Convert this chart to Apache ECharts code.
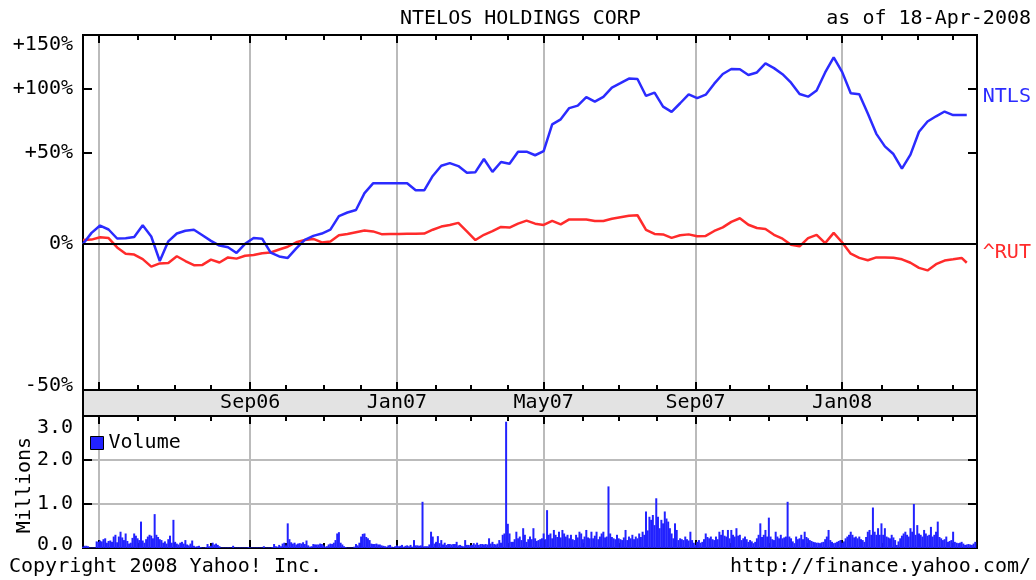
<!DOCTYPE html>
<html>
<head>
<meta charset="utf-8">
<script src="https://cdn.jsdelivr.net/npm/echarts@6/dist/echarts.min.js"></script>
<style>
html,body{margin:0;padding:0;background:#fff;}
#chart{width:1036px;height:580px;}
</style>
</head>
<body>
<div id="chart"></div>
<script>
// ---------- text ----------
const chartTitle = 'NTELOS HOLDINGS CORP';
const asOfText = 'as of 18-Apr-2008';
const copyrightText = 'Copyright 2008 Yahoo! Inc.';
const sourceText = 'http://finance.yahoo.com/';
const volumeAxisName = 'Millions';
const seriesNames = ['NTLS', '^RUT', 'Volume'];
const monthNames = ['Jan','Feb','Mar','Apr','May','Jun','Jul','Aug','Sep','Oct','Nov','Dec'];
const majorMonths = ['01', '05', '09'];

// ---------- calendar (weekday axis) ----------
const firstDay = '2006-04-18';
const lastDay = '2008-04-21';
const lastLineDay = '2008-04-11';

// ---------- series values ----------
// % change since start, one reading per week (every 5th weekday), last value = final day
const ntlsPct = [
  0, 5.1, 8.6, 6.7, 2.5, 2.6, 3.2, 8.7, 3.4, -7.3,
  1.2, 4.8, 6.1, 6.6, 4.0, 1.4, -0.7, -1.4, -3.9, 0.1,
  2.7, 2.4, -3.8, -5.4, -6.0, -1.9, 1.9, 3.7, 4.8, 6.6,
  13.3, 15.1, 16.4, 25.5, 31.1, 31.1, 31.1, 31.1, 31.1, 27.1,
  27.1, 35.5, 41.8, 43.5, 41.6, 37.5, 37.8, 46.1, 38, 44.2,
  43.1, 51, 51, 48.6, 51.3, 70.6, 74.4, 83.4, 85.4, 92.5,
  88.7, 92.8, 101, 105, 109.2, 108.8, 93.6, 96.5, 84.6, 80.3,
  87.4, 95, 91.8, 94.7, 104.5, 113.5, 118.3, 118.1, 112.6, 115,
  123.8, 119.2, 113.3, 105.4, 95.3, 93.0, 98.4, 115, 130, 115.3,
  95.9, 95, 79, 63.5, 54.6, 49.4, 40, 49, 65, 72.7,
  76.8, 80.6, 77.8, 77.8,
  77.8
];
const rutPct = [
  1.8, 2.0, 3.1, 2.7, -1.5, -4.2, -4.6, -6.5, -9.6, -8.3,
  -8.1, -5.3, -7.3, -9.0, -8.9, -6.7, -7.9, -5.8, -6.3, -5.1,
  -4.8, -4.0, -3.7, -2.4, -1.2, 0.8, 1.8, 2.3, 0.7, 1.1,
  4.0, 4.6, 5.4, 6.2, 5.8, 4.5, 4.6, 4.6, 4.7, 4.7,
  4.8, 6.6, 8.1, 8.9, 9.9, 5.8, 1.8, 4.2, 5.9, 7.9,
  7.6, 9.5, 11, 9.5, 8.9, 10.9, 9.2, 11.6, 11.6, 11.6,
  10.8, 10.8, 11.9, 12.7, 13.4, 13.7, 6.5, 4.6, 4.4, 2.8,
  4.0, 4.4, 3.5, 3.7, 6, 7.7, 10.4, 12.2, 9, 7.4,
  6.9, 4.2, 2.4, -0.3, -1, 2.7, 4.2, 0.4, 5.1, 0.7,
  -4.2, -6.0, -7.0, -5.8, -5.8, -5.9, -6.6, -8, -10.1, -11.1,
  -8.6, -7.1, -6.6, -6,
  -8
];
// NTLS daily volume, in units of 10,000 shares (one value per weekday from firstDay)
const volume10k = [
  3,5,5,4,1,1,1,1,15,14,17,15,20,22,12,16,17,14,26,30,
  13,26,37,24,18,33,16,10,12,23,33,28,22,18,60,17,12,20,26,30,
  28,22,77,30,25,20,18,12,15,10,20,28,12,64,14,10,8,12,14,10,
  18,8,6,10,17,5,3,4,5,2,1,1,2,9,4,5,12,8,10,7,
  4,1,1,1,1,1,1,1,5,1,1,1,1,1,1,1,1,2,1,1,
  1,1,1,1,1,1,4,1,1,1,1,2,9,4,3,7,4,10,12,6,
  56,20,13,10,12,8,10,11,10,13,9,17,6,3,4,9,8,8,8,10,
  9,6,3,4,8,10,9,12,18,33,36,12,8,4,2,1,1,1,1,3,
  9,6,12,26,32,33,25,22,18,10,9,9,10,8,8,6,5,4,3,6,
  7,3,2,4,6,4,5,7,3,5,6,4,7,3,18,6,6,5,6,105,
  4,4,4,8,37,26,10,14,27,11,18,8,12,7,9,9,8,9,9,14,
  6,7,5,4,18,7,7,6,7,11,8,12,7,9,9,8,9,8,22,10,
  14,9,8,10,18,12,30,33,287,55,33,14,14,20,37,22,26,18,45,30,
  14,20,26,20,45,22,16,18,20,22,33,20,86,30,33,22,41,30,25,37,
  24,41,33,26,30,22,30,20,18,30,24,37,33,20,26,41,24,22,37,22,
  28,37,20,26,33,37,24,26,140,33,25,22,20,30,22,20,18,24,41,18,
  26,22,30,20,26,22,33,25,37,30,83,40,71,64,75,52,113,71,45,64,
  56,83,67,60,45,33,22,56,41,18,22,20,18,26,20,17,37,18,12,7,
  14,18,12,14,20,33,25,22,26,20,18,26,20,37,30,41,28,26,41,22,
  41,30,26,45,28,30,18,22,26,20,14,18,15,11,14,22,30,56,25,30,
  41,26,69,26,20,18,37,26,22,30,22,24,26,105,26,22,15,11,26,20,
  22,30,20,37,25,22,18,16,14,13,12,12,11,13,14,20,26,41,18,14,
  11,12,14,16,18,12,15,22,26,30,37,30,24,26,22,26,20,18,14,25,
  37,41,30,92,37,30,45,30,56,30,45,26,24,22,30,24,18,7,15,22,
  28,33,37,30,26,45,37,100,30,52,33,30,26,41,33,28,30,48,26,30,
  37,60,25,22,18,20,26,14,16,18,37,14,12,11,12,14,10,7,8,9,
  8,7,10,14
];

// ---------- axis ticks ----------
const pctTickValues = [0.5, 1.5, 2.0]; // gridlines at +50%, +100% (ratio 1.5, 2.0)
const volumeTicks = { min: 0, max: 3, interval: 1 };

// ---------- build ----------
const FONT = '"DejaVu Sans Mono", monospace';
const BLUE = '#2b2bff', RED = '#ff2b2b', VOL = '#2222ff', GRID = '#bbbbbb';

function weekdaysBetween(a, b) {
  const out = [];
  const d = new Date(a + 'T00:00:00Z');
  const end = new Date(b + 'T00:00:00Z');
  while (d <= end) {
    const wd = d.getUTCDay();
    if (wd !== 0 && wd !== 6) out.push(d.toISOString().slice(0, 10));
    d.setUTCDate(d.getUTCDate() + 1);
  }
  return out;
}
const days = weekdaysBetween(firstDay, lastDay);
const lineDates = ntlsPct.slice(0, -1).map((_, i) => days[i * 5]).concat([lastLineDay]);

const isMonthStart = (i) => i > 0 && days[i].slice(5, 7) !== days[i - 1].slice(5, 7);
const isMajor = (i) => isMonthStart(i) && majorMonths.includes(days[i].slice(5, 7));
let firstMajor = -1;
for (let i = 0; i < days.length; i++) { if (isMajor(i)) { firstMajor = i; break; } }

const ratioMin = 0.5214, ratioMax = 2.541;

const blackLine = { color: '#000', width: 2 };
function xAxesFor(gridIndex, withLabels) {
  const base = {
    type: 'category', data: days, boundaryGap: false, gridIndex,
    axisLabel: { show: false }, splitLine: { show: false },
    axisLine: { show: false, onZero: false }, axisTick: { show: false }
  };
  return [
    Object.assign({}, base, {
      position: 'bottom',
      axisLine: { show: true, onZero: false, lineStyle: blackLine },
      axisTick: { show: true, inside: true, length: 5, interval: (i) => isMonthStart(i), lineStyle: blackLine },
      splitLine: { show: true, interval: (i) => isMajor(i), lineStyle: { color: GRID, width: 2 } },
      axisLabel: withLabels ? {
        show: true, interval: (i) => isMajor(i) && i !== firstMajor,
        formatter: (v) => monthNames[+v.slice(5, 7) - 1] + v.slice(2, 4),
        margin: 3, fontFamily: FONT, fontSize: 20, lineHeight: 20, color: '#000'
      } : { show: false }
    }),
    Object.assign({}, base, {
      position: 'bottom',
      axisTick: { show: true, inside: true, length: 8, interval: (i) => isMajor(i), lineStyle: blackLine }
    }),
    Object.assign({}, base, {
      position: 'top',
      axisLine: { show: true, onZero: false, lineStyle: blackLine },
      axisTick: { show: true, inside: true, length: 5, interval: (i) => isMonthStart(i), lineStyle: blackLine }
    }),
    Object.assign({}, base, {
      position: 'top',
      axisTick: { show: true, inside: true, length: 8, interval: (i) => isMajor(i), lineStyle: blackLine }
    })
  ];
}

const labelStyle = { fontFamily: FONT, fontSize: 20, color: '#000' };
const richShift = {
  down: { fontFamily: FONT, fontSize: 20, color: '#000', padding: [20, 0, 0, 0] },
  downV: { fontFamily: FONT, fontSize: 20, color: '#000', padding: [24, 0, 0, 0] },
  up: { fontFamily: FONT, fontSize: 20, color: '#000', padding: [0, 0, 8, 0] },
  upS: { fontFamily: FONT, fontSize: 20, color: '#000', padding: [0, 0, 6, 0] }
};
function pctLabel(v) {
  if (v >= ratioMax * 0.99) return '{down|+150%}';
  if (v <= ratioMin * 1.01) return '{up|-50%}';
  const p = Math.round((v - 1) * 100);
  return p === 0 ? '0%' : (p > 0 ? '+' + p + '%' : p + '%');
}

const titleText = { fontFamily: FONT, fontSize: 20, fontWeight: 'normal', color: '#000', lineHeight: 20 };

const option = {
  animation: false,
  backgroundColor: '#fff',
  textStyle: { fontFamily: FONT, color: '#000' },
  title: [
    { text: chartTitle, left: 400, top: 9, padding: 0, textStyle: titleText },
    { text: asOfText, right: 5, top: 9, padding: 0, textStyle: titleText },
    { text: copyrightText, left: 9, top: 557, padding: 0, textStyle: titleText },
    { text: sourceText, right: 5, top: 557, padding: 0, textStyle: titleText }
  ],
  legend: {
    data: [seriesNames[2]], left: 90, top: 433, padding: 0,
    itemWidth: 13, itemHeight: 13, icon: 'rect', selectedMode: false,
    itemStyle: { borderColor: '#000', borderWidth: 1 },
    textStyle: { fontFamily: FONT, fontSize: 20, color: '#000' }
  },
  graphic: [{
    type: 'text', x: 25, y: 485, rotation: Math.PI / 2,
    style: { text: volumeAxisName, fontFamily: FONT, fontSize: 20, fill: '#000',
      align: 'center', verticalAlign: 'middle', textAlign: 'center', textVerticalAlign: 'middle' }
  }],
  grid: [
    { left: 83, top: 35, width: 894, height: 355, show: true, backgroundColor: '#fff', borderColor: '#000', borderWidth: 2, outerBoundsMode: 'none' },
    { left: 83, top: 416, width: 894, height: 132, show: true, backgroundColor: '#fff', borderColor: '#000', borderWidth: 2, outerBoundsMode: 'none' },
    { left: 83, top: 390, width: 894, height: 26, show: true, backgroundColor: '#e3e3e3', borderColor: '#000', borderWidth: 2, outerBoundsMode: 'none' }
  ],
  xAxis: [].concat(
    xAxesFor(0, true),
    xAxesFor(1, false),
    [{ type: 'value', gridIndex: 2, show: false }]
  ),
  yAxis: [
    {
      type: 'log', logBase: 10, gridIndex: 0, position: 'left', min: ratioMin, max: ratioMax,
      axisLine: { show: true, onZero: false, lineStyle: blackLine },
      axisTick: { show: true, inside: true, length: 9, customValues: pctTickValues.slice(1), lineStyle: blackLine },
      splitLine: { show: true, showMinLine: false, showMaxLine: false, lineStyle: { color: GRID, width: 2 } },
      axisLabel: Object.assign({
        show: true, margin: 10, formatter: pctLabel, rich: richShift,
        customValues: [ratioMin * 1.0005, 1, pctTickValues[1], pctTickValues[2], ratioMax * 0.9995]
      }, labelStyle)
    },
    {
      type: 'log', logBase: 10, gridIndex: 0, position: 'right', min: ratioMin, max: ratioMax,
      axisLine: { show: true, onZero: false, lineStyle: blackLine },
      axisTick: { show: true, inside: true, length: 9, customValues: pctTickValues.slice(1), lineStyle: blackLine },
      splitLine: { show: false }, axisLabel: { show: false }
    },
    {
      type: 'value', gridIndex: 1, position: 'left',
      min: volumeTicks.min, max: volumeTicks.max, interval: volumeTicks.interval,
      axisLine: { show: true, onZero: false, lineStyle: blackLine },
      axisTick: { show: true, inside: true, length: 9, lineStyle: blackLine },
      splitLine: { show: true, showMinLine: false, showMaxLine: false, lineStyle: { color: GRID, width: 2 } },
      axisLabel: Object.assign({
        show: true, margin: 10, rich: richShift,
        formatter: (v) => v >= volumeTicks.max ? '{downV|' + v.toFixed(1) + '}' : (v <= volumeTicks.min ? '{upS|' + v.toFixed(1) + '}' : v.toFixed(1))
      }, labelStyle)
    },
    {
      type: 'value', gridIndex: 1, position: 'right',
      min: volumeTicks.min, max: volumeTicks.max, interval: volumeTicks.interval,
      axisLine: { show: true, onZero: false, lineStyle: blackLine },
      axisTick: { show: true, inside: true, length: 9, lineStyle: blackLine },
      splitLine: { show: false }, axisLabel: { show: false }
    },
    { type: 'value', gridIndex: 2, show: false }
  ],
  series: [
    {
      name: seriesNames[1], type: 'line', xAxisIndex: 0, yAxisIndex: 0,
      data: lineDates.map((d, i) => [d, 1 + rutPct[i] / 100]),
      showSymbol: false, symbol: 'none', color: RED,
      lineStyle: { color: RED, width: 2.5 },
      endLabel: { show: true, formatter: seriesNames[1], color: RED, fontFamily: FONT, fontSize: 20, distance: 0, offset: [16, -10] },
      markLine: {
        silent: true, symbol: ['none', 'none'], label: { show: false },
        lineStyle: { color: '#000', width: 2, type: 'solid' },
        data: [{ yAxis: 1 }]
      },
      z: 3
    },
    {
      name: seriesNames[0], type: 'line', xAxisIndex: 0, yAxisIndex: 0,
      data: lineDates.map((d, i) => [d, 1 + ntlsPct[i] / 100]),
      showSymbol: false, symbol: 'none', color: BLUE,
      lineStyle: { color: BLUE, width: 2.5 },
      endLabel: { show: true, formatter: seriesNames[0], color: BLUE, fontFamily: FONT, fontSize: 20, distance: 0, offset: [16, -18] },
      z: 4
    },
    {
      name: seriesNames[2], type: 'bar', xAxisIndex: 4, yAxisIndex: 2,
      data: volume10k.map((v) => v / 100),
      barWidth: 2, color: VOL, itemStyle: { color: VOL }
    }
  ]
};

const chart = echarts.init(document.getElementById('chart'), null, { renderer: 'canvas' });
chart.setOption(option);
</script>
</body>
</html>
